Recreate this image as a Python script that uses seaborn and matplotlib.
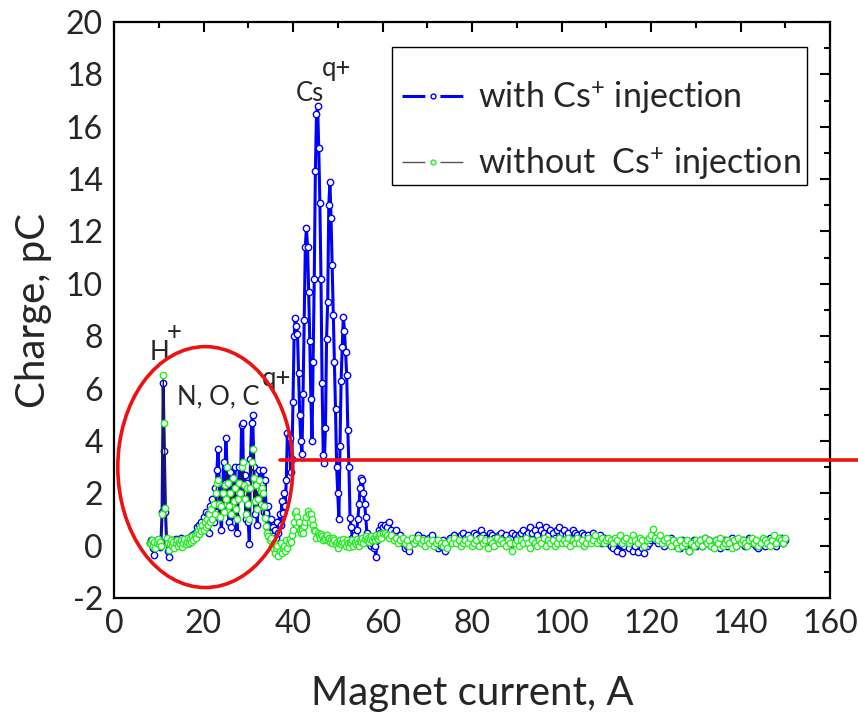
import numpy as np
import pandas as pd
import matplotlib
matplotlib.use("Agg")
import matplotlib.pyplot as plt
from matplotlib.lines import Line2D
from matplotlib.patches import Ellipse, Rectangle
import seaborn as sns

# ---------------- data ----------------
# sampling grid of the magnet current scan (A)
x_fine_start, x_fine_stop, x_fine_step = 8.0, 60.0, 0.25
x_coarse_start, x_coarse_stop, x_coarse_step = 60.5, 150.0, 0.5

with_cs_fine = [
    0.10, 0.20, 0.05, -0.10, -0.35, 0.15, 0.20, 0.00, 0.10, -0.05, 0.15, 1.30, 6.20, 3.60, 1.30, 0.20, -0.20, -0.45, -0.10, 0.10,
    0.20, 0.05, 0.15, 0.25, 0.10, 0.20, 0.05, 0.15, 0.30, 0.10, 0.20, 0.05, 0.25, 0.15, 0.30, 0.10, 0.30, 0.20, 0.40, 0.30,
    0.50, 0.40, 0.70, 0.55, 0.80, 0.60, 0.90, 0.70, 1.10, 0.80, 1.30, 0.90, 1.20, 0.50, 1.50, 1.00, 1.80, 0.90, 2.20, 1.30,
    2.90, 3.70, 2.40, 1.20, 0.60, 2.00, 3.20, 2.40, 4.10, 3.00, 1.40, 0.90, 2.80, 0.70, 2.60, 1.50, 3.00, 1.10, 0.50, 2.00,
    3.00, 2.00, 4.60, 4.70, 2.00, 2.70, 1.00, 2.40, 0.90, 0.05, 3.30, 4.70, 5.00, 3.00, 1.20, 2.20, 0.80, 1.80, 2.90, 1.60,
    2.40, 2.90, 1.30, 2.50, 1.25, 0.70, 1.50, 0.50, 1.00, 0.30, 0.70, 0.40, 0.60, 0.30, 0.90, 0.50, 1.20, 0.80, 1.70, 1.25,
    2.00, 1.50, 2.50, 4.30, 4.15, 4.10, 2.80, 3.30, 5.50, 8.00, 8.70, 8.40, 8.10, 6.60, 5.00, 4.00, 3.50, 5.80, 8.60, 11.40,
    12.15, 11.40, 9.70, 7.80, 5.60, 4.00, 7.00, 10.20, 14.30, 16.50, 16.80, 15.20, 13.10, 10.20, 6.20, 3.45, 3.15, 4.50, 7.90, 9.30,
    13.00, 13.90, 12.50, 10.70, 8.80, 7.00, 5.20, 3.00, 2.00, 1.00, 3.80, 6.30, 7.60, 8.75, 8.20, 7.40, 6.50, 4.40, 3.00, 1.05,
    0.70, 0.30, 0.10, 0.40, 0.20, 0.60, 1.00, 1.60, 2.20, 2.60, 2.50, 2.00, 1.60, 1.10, 0.50, 0.30, 0.10, 0.20, 0.00, 0.10,
    -0.10, 0.00, -0.45, 0.20, 0.40, 0.60, 0.50, 0.80, 0.70,
]
with_cs_coarse = [
    0.8, 0.7, 0.9, 0.6, 0.5, 0.6, 0.3, 0.4, 0.1, -0.1, 0.0, -0.2, 0.2, 0.1, 0.3, 0.4, 0.2, 0.3, 0.1, 0.2,
    0.3, 0.4, 0.1, 0.2, -0.1, 0.0, 0.2, -0.2, 0.1, 0.3, 0.2, 0.4, 0.3, 0.2, 0.4, 0.5, 0.3, 0.4, 0.2, 0.3,
    0.5, 0.4, 0.3, 0.6, 0.4, 0.3, 0.2, 0.5, 0.4, 0.3, 0.2, 0.4, 0.5, 0.3, 0.4, 0.2, 0.3, 0.5, 0.4, 0.3,
    0.4, 0.5, 0.6, 0.4, 0.5, 0.7, 0.5, 0.6, 0.4, 0.8, 0.6, 0.5, 0.7, 0.4, 0.6, 0.5, 0.3, 0.6, 0.7, 0.5,
    0.6, 0.4, 0.5, 0.3, 0.6, 0.5, 0.4, 0.3, 0.5, 0.4, 0.2, 0.4, 0.3, 0.5, 0.3, 0.2, 0.4, 0.1, 0.3, 0.2,
    0.1, 0.0, -0.1, 0.2, -0.2, 0.1, -0.3, 0.0, 0.2, -0.1, 0.1, -0.2, 0.0, -0.25, 0.1, -0.1, -0.3, 0.0, 0.1, 0.2,
    0.3, 0.2, 0.1, 0.3, 0.2, 0.0, 0.2, 0.1, 0.3, 0.2, 0.0, 0.1, -0.1, 0.2, 0.1, 0.0, -0.2, 0.1, 0.2, 0.0,
    0.1, 0.2, 0.0, 0.3, 0.1, 0.2, 0.0, 0.1, 0.2, 0.0, -0.1, 0.1, 0.2, 0.0, 0.1, 0.3, 0.1, 0.0, 0.2, 0.1,
    0.2, 0.0, 0.1, 0.3, 0.1, 0.2, 0.0, -0.1, 0.1, 0.2, 0.0, 0.1, 0.3, 0.2, 0.1, 0.0, 0.2, 0.3, 0.1, 0.2,
]
without_cs_fine = [
    0.10, 0.05, 0.20, 0.00, 0.15, -0.10, 0.10, 0.25, 0.05, 0.15, 0.00, 1.20, 6.50, 4.70, 1.45, 0.30, 0.10, -0.15, 0.05, 0.20,
    0.00, 0.15, -0.10, 0.10, 0.20, 0.00, 0.15, 0.05, 0.20, -0.05, 0.10, 0.25, 0.05, 0.15, 0.30, 0.10, 0.25, 0.15, 0.35, 0.20,
    0.40, 0.30, 0.50, 0.60, 0.45, 0.70, 0.55, 0.80, 0.60, 0.90, 0.70, 1.00, 0.80, 1.20, 0.90, 1.40, 1.00, 1.60, 1.20, 2.00,
    2.40, 2.50, 1.60, 1.10, 1.50, 2.00, 1.30, 2.30, 1.80, 3.00, 2.40, 1.50, 2.00, 1.20, 2.60, 1.70, 2.20, 1.40, 1.00, 1.80,
    2.40, 2.00, 3.00, 3.20, 2.30, 1.80, 1.20, 2.20, 1.60, 1.00, 2.20, 3.20, 3.70, 2.60, 1.70, 2.30, 1.40, 1.80, 2.50, 2.10,
    2.20, 2.00, 1.50, 1.05, 0.74, 0.50, 0.36, 0.20, 0.30, 0.00, -0.10, 0.10, -0.30, -0.10, 0.00, -0.40, -0.20, 0.10, -0.28, -0.10,
    0.00, -0.20, 0.20, -0.10, 0.10, 0.25, 0.15, 0.40, 0.60, 0.90, 1.25, 1.31, 1.10, 0.90, 0.60, 0.48, 0.60, 0.50, 0.74, 0.90,
    1.10, 1.31, 1.20, 0.90, 1.20, 1.00, 0.80, 0.60, 0.55, 0.30, 0.50, 0.40, 0.30, 0.45, 0.35, 0.20, 0.30, 0.25, 0.40, 0.20,
    0.30, 0.15, 0.25, 0.10, 0.30, 0.20, 0.05, 0.15, -0.10, 0.10, 0.20, 0.05, 0.15, 0.25, 0.10, 0.00, 0.20, 0.10, -0.05, 0.15,
    0.10, 0.20, 0.00, 0.15, 0.05, 0.25, 0.10, 0.00, 0.20, 0.15, 0.30, 0.10, 0.25, 0.35, 0.20, 0.30, 0.15, 0.25, 0.35, 0.20,
    0.30, 0.20, 0.40, 0.30, 0.25, 0.35, 0.45, 0.30, 0.48,
]
without_cs_coarse = [
    0.5, 0.4, 0.3, 0.4, 0.2, 0.3, 0.1, 0.2, 0.3, 0.1, 0.2, 0.0, 0.3, 0.1, 0.2, 0.3, 0.1, 0.2, 0.0, 0.2,
    0.1, 0.2, 0.0, 0.1, 0.2, 0.1, 0.0, 0.1, -0.1, 0.2, 0.1, 0.3, 0.1, 0.2, 0.0, 0.1, 0.2, 0.1, 0.3, 0.0,
    0.1, 0.2, 0.0, 0.3, 0.1, 0.2, -0.1, 0.2, 0.1, 0.0, 0.3, 0.1, 0.2, 0.1, 0.0, 0.2, 0.1, -0.2, 0.1, 0.2,
    0.0, 0.2, 0.1, 0.3, 0.1, -0.1, 0.2, 0.1, 0.0, 0.2, 0.1, 0.3, 0.0, 0.2, 0.1, 0.2, 0.0, 0.1, 0.3, 0.1,
    0.2, 0.1, 0.3, 0.0, 0.2, 0.1, 0.3, 0.1, 0.2, 0.0, 0.1, 0.3, 0.1, 0.2, 0.4, 0.1, 0.2, 0.3, 0.1, 0.2,
    0.3, 0.2, 0.1, 0.3, 0.2, 0.4, 0.1, 0.2, 0.3, 0.1, 0.2, 0.4, 0.2, 0.1, 0.3, 0.2, 0.0, 0.2, 0.3, 0.4,
    0.65, 0.3, 0.2, 0.4, 0.1, 0.2, 0.3, 0.1, 0.0, 0.2, 0.1, -0.1, 0.2, 0.0, 0.1, 0.2, -0.2, 0.1, 0.0, 0.2,
    0.1, 0.2, 0.0, 0.3, 0.1, 0.2, 0.0, -0.1, 0.2, 0.1, 0.3, 0.0, 0.1, 0.2, 0.1, -0.1, 0.2, 0.0, 0.3, 0.1,
    0.2, 0.1, 0.0, 0.2, 0.3, 0.1, 0.2, 0.0, 0.1, 0.3, 0.2, 0.1, 0.0, 0.2, 0.4, 0.1, 0.3, 0.2, 0.1, 0.3,
]

series_labels = ["with Cs$^{+}$ injection", "without  Cs$^{+}$ injection"]
x_ticks = [0, 20, 40, 60, 80, 100, 120, 140, 160]
y_ticks = [-2, 0, 2, 4, 6, 8, 10, 12, 14, 16, 18, 20]

# ---------------- build tables ----------------
x_fine = np.arange(x_fine_start, x_fine_stop + 1e-6, x_fine_step)
x_coarse = np.arange(x_coarse_start, x_coarse_stop + 1e-6, x_coarse_step)
x_all = np.concatenate([x_fine, x_coarse])
df_with = pd.DataFrame({"current": x_all, "charge": with_cs_fine + with_cs_coarse})
df_without = pd.DataFrame({"current": x_all, "charge": without_cs_fine + without_cs_coarse})

# ---------------- style ----------------
sns.set_theme(style="white")
plt.rcParams["font.family"] = ["Lato", "DejaVu Sans"]
plt.rcParams["mathtext.fontset"] = "custom"
plt.rcParams["mathtext.rm"] = "Lato"
plt.rcParams["mathtext.it"] = "Lato"
plt.rcParams["mathtext.bf"] = "Lato"
plt.rcParams["lines.scale_dashes"] = False
plt.rcParams["axes.unicode_minus"] = False

fig = plt.figure(figsize=(8.58, 7.18), dpi=100)
ax = fig.add_axes([114 / 858, 1 - 598 / 718, (830 - 114) / 858, (598 - 22) / 718])

blue = "#0000ff"
green = "#22ee22"

sns.lineplot(data=df_with, x="current", y="charge", ax=ax, estimator=None, sort=False,
             color=blue, lw=2.2, marker="o", markersize=4.6, markerfacecolor="white",
             markeredgecolor=blue, markeredgewidth=1.0, legend=False, zorder=3)
sns.lineplot(data=df_without, x="current", y="charge", ax=ax, estimator=None, sort=False,
             color="#222222", lw=0.9, marker="o", markersize=4.6, markerfacecolor="white",
             markeredgecolor=green, markeredgewidth=1.0, legend=False, zorder=4)

ax.set_xlim(0, 160)
ax.set_ylim(-2, 20)
ax.set_xticks(x_ticks)
ax.set_yticks(y_ticks)
ax.set_xticks(np.arange(10, 160, 20), minor=True)
ax.set_yticks(np.arange(-1, 20, 2), minor=True)
ax.tick_params(which="both", direction="in", top=True, right=True, width=1.5, color="black")
ax.tick_params(which="major", length=7.5, labelsize=23, pad=8)
ax.tick_params(which="minor", length=4)
for s in ax.spines.values():
    s.set_linewidth(1.6)
    s.set_color("black")
ax.grid(False)

ax.set_xlabel("Magnet current, A", fontsize=29, labelpad=26)
ax.set_ylabel("Charge, pC", fontsize=29, labelpad=10)

# annotations (superscripts drawn full size and raised, as in the original)
ann_size = 18.5
ax.text(8.0, 7.1, "H", fontsize=ann_size, ha="left", va="baseline")
ax.text(13.4, 8.15, "+", fontsize=ann_size, ha="center", va="center")
ax.text(14.1, 5.38, "N, O, C", fontsize=ann_size, ha="left", va="baseline")
ax.text(33.1, 6.1, "q+", fontsize=ann_size, ha="left", va="baseline")
ax.text(40.7, 17.0, "Cs", fontsize=ann_size, ha="left", va="baseline")
ax.text(46.5, 17.95, "q+", fontsize=ann_size, ha="left", va="baseline")

ax.add_patch(Ellipse((20.4, 3.0), 39.1, 9.2, fill=False, edgecolor="#ee1111", lw=2.6, zorder=6))
ax.plot([37.1, 166.5], [3.28, 3.28], color="#ee1111", lw=2.6, clip_on=False, zorder=6)

# legend frame (drawn separately to match the original's padding)
ax.add_patch(Rectangle(((392 - 114) / 716, (598 - 185) / 576), (807 - 392) / 716, (185 - 47) / 576,
                       transform=ax.transAxes, facecolor="white", edgecolor="black", lw=1.0, zorder=7))

handles = [
    Line2D([], [], color=blue, lw=2.2, dashes=(16.5, 10.8), marker="o", markersize=3.5,
           markerfacecolor="white", markeredgecolor=blue, markeredgewidth=1.0),
    Line2D([], [], color="#555555", lw=1.0, dashes=(16.5, 10.8), marker="o", markersize=3.5,
           markerfacecolor="white", markeredgecolor=green, markeredgewidth=1.0),
]
leg = ax.legend(handles, series_labels, loc="upper left",
                bbox_to_anchor=((402 - 114) / 716, (598 - 79) / 576),
                borderaxespad=0, borderpad=0, fontsize=24.5, frameon=False,
                handlelength=1.8, handletextpad=0.42, labelspacing=0.88)
leg.set_zorder(8)

fig.savefig("out.png", dpi=100)
